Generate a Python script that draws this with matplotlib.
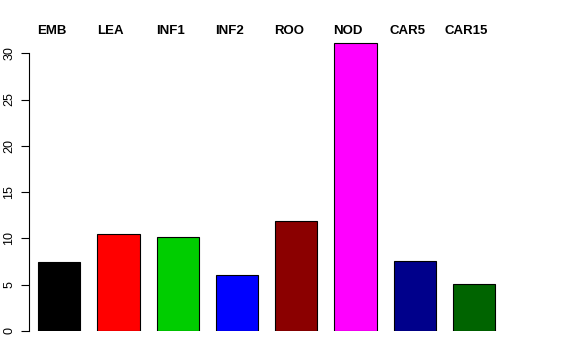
import numpy as np
import matplotlib.pyplot as plt

plt.rcParams['font.family'] = ['Liberation Sans', 'DejaVu Sans']

# values
groups = ['EMB', 'LEA', 'INF1', 'INF2', 'ROO', 'NOD', 'CAR5', 'CAR15']
values = [7.42, 10.44, 10.15, 6.01, 11.9, 31.1, 7.59, 5.04]
colors = ['#000000', '#FF0000', '#00CD00', '#0000FF', '#8B0000', '#FF00FF', '#00008B', '#006400']
yticks = [0, 5, 10, 15, 20, 25, 30]

# R-style barplot layout: width 1, space 0.4
pos = 0.4 + 1.4 * np.arange(len(groups)) + 0.5

fig = plt.figure(figsize=(5.76, 3.6), dpi=100)
ax = fig.add_axes([29 / 576, 29 / 360, 474 / 576, 296.3 / 360])

ax.bar(pos, values, width=1.0, color=colors, edgecolor='black', linewidth=0.8)

ax.set_xlim(0.188, 11.38)
ax.set_ylim(0, 32)

for s in ['top', 'right', 'bottom']:
    ax.spines[s].set_visible(False)
ax.spines['left'].set_bounds(0, 30)
ax.spines['left'].set_linewidth(0.8)
ax.set_xticks([])
ax.set_yticks(yticks)
ax.tick_params(axis='y', length=6, width=0.8, labelsize=9, pad=4)
for lab in ax.get_yticklabels():
    lab.set_rotation(90)
    lab.set_va('center')

# group names above the bars
for p, g in zip(pos, groups):
    ax.text(p - 0.18, 32.07, g, ha='center', va='baseline', fontsize=9.5,
            fontweight='bold', clip_on=False)

fig.savefig('out.png', dpi=100)
